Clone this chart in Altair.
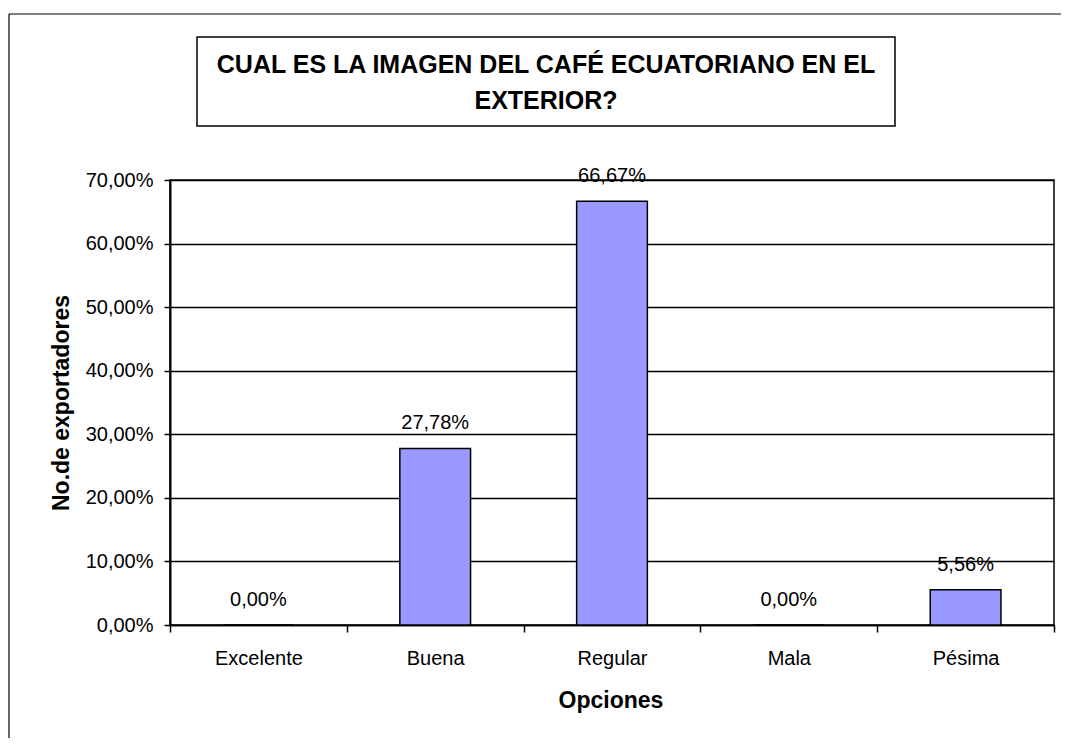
import altair as alt
import pandas as pd

# ---- data ----
categories = ["Excelente", "Buena", "Regular", "Mala", "Pésima"]
values = [0.00, 27.78, 66.67, 0.00, 5.56]
y_ticks = [0, 10, 20, 30, 40, 50, 60, 70]
title_lines = ["CUAL ES LA IMAGEN DEL CAFÉ ECUATORIANO EN EL", "EXTERIOR?"]
x_title = "Opciones"
y_title = "No.de exportadores"

df = pd.DataFrame({"Opciones": categories, "valor": values})
one = pd.DataFrame({"k": [0]})
title_df = pd.DataFrame({"t": ["\n".join(title_lines)]})

FONT = "Liberation Sans"
pct = "replace(format({v}, '.2f'), '.', ',') + '%'"

x_enc = alt.X(
    "Opciones:N", sort=categories,
    scale=alt.Scale(paddingInner=0, paddingOuter=0),
    axis=alt.Axis(
        title=x_title, labelAngle=0, tickBand="extent",
        tickSize=7, tickColor="#000", tickWidth=1.5,
        domainColor="#000", domainWidth=1.5,
        labelFont=FONT, labelFontSize=20, labelColor="#000",
        labelBaseline="alphabetic", labelPadding=32,
        titleFont=FONT, titleFontSize=23, titleFontWeight="bold", titleColor="#000",
        titleX=440.5, titleY=82, titleBaseline="alphabetic", titleAlign="center",
    ),
)
y_enc = alt.Y(
    "valor:Q",
    scale=alt.Scale(domain=[0, 70], nice=False),
    axis=alt.Axis(
        values=y_ticks, labelExpr=pct.format(v="datum.value"),
        grid=True, gridColor="#000", gridWidth=1.5,
        tickSize=6, tickColor="#000", tickWidth=1.5,
        domainColor="#000", domainWidth=2,
        labelFont=FONT, labelFontSize=20, labelColor="#000", labelPadding=11,
        title=y_title, titleFont=FONT, titleFontSize=23, titleFontWeight="bold",
        titleColor="#000", titleAngle=270, titleX=-102, titleY=222.5,
        titleBaseline="alphabetic", titleAlign="center",
    ),
)

bars = alt.Chart(df).mark_bar(
    color="#9999FF", stroke="#000", strokeWidth=1.5,
    width=alt.RelativeBandSize(0.4),
).encode(x=x_enc, y=y_enc)

labels = alt.Chart(df).transform_calculate(
    label=pct.format(v="datum.valor")
).mark_text(
    font=FONT, fontSize=20, baseline="alphabetic", dy=-19, color="#000"
).encode(
    x=alt.X("Opciones:N", sort=categories),
    y=alt.Y("valor:Q"),
    text="label:N",
)

# outer chart border: only left and top edges are visible in the reference
outer_left = alt.Chart(one).mark_rule(color="#000", strokeWidth=1.2).encode(
    x=alt.value(-161), y=alt.value(-166), y2=alt.value(900)
)
outer_top = alt.Chart(one).mark_rule(color="#000", strokeWidth=1.2).encode(
    x=alt.value(-161), x2=alt.value(891), y=alt.value(-166)
)

title_box = alt.Chart(one).mark_rect(
    fillOpacity=0, stroke="#000", strokeWidth=1.5
).encode(
    x=alt.value(27), x2=alt.value(725), y=alt.value(-143), y2=alt.value(-54)
)

title_text = alt.Chart(title_df).mark_text(
    font=FONT, fontSize=25, fontWeight="bold", color="#000",
    align="center", baseline="alphabetic", lineBreak="\n", lineHeight=36,
).encode(
    x=alt.value(376), y=alt.value(-107), text="t:N"
)

chart = alt.layer(outer_left, outer_top, title_box, title_text, bars, labels).properties(
    width=884, height=445,
    padding={"left": 162, "top": 172, "right": 7, "bottom": 113},
    autosize=alt.AutoSizeParams(type="none"),
    background="#ffffff",
).configure_view(stroke="#000", strokeWidth=1.5)

chart.save("out.html", embed_options={"renderer": "svg", "actions": False})
